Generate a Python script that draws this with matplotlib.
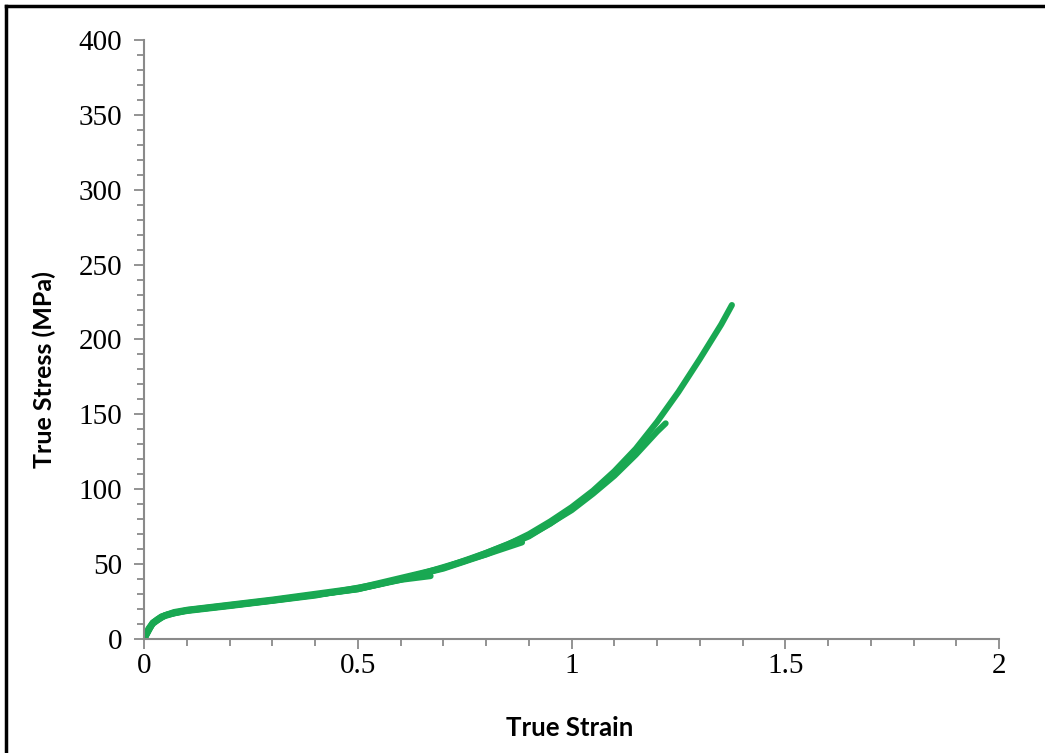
import matplotlib.pyplot as plt
from matplotlib.ticker import MultipleLocator
from matplotlib.lines import Line2D

# specimen curves (true strain, true stress in MPa)
strain_a = [0, 0.005, 0.01, 0.02, 0.03, 0.04, 0.05, 0.07, 0.1, 0.15, 0.2, 0.3, 0.4, 0.5,
            0.55, 0.6, 0.65, 0.7, 0.75, 0.8, 0.85, 0.9, 0.95, 1.0, 1.05, 1.1, 1.15, 1.2,
            1.25, 1.3, 1.35, 1.375]
stress_a = [0, 3.5, 6.5, 10.5, 13, 14.8, 16, 17.6, 19, 20.7, 22.3, 25.8, 29.5, 33.5,
            36.5, 40, 43.5, 47.5, 52, 57.5, 63, 70, 78.5, 88, 99, 112, 127, 145,
            165, 187, 210, 223]

strain_b = [0, 0.01, 0.02, 0.04, 0.07, 0.1, 0.2, 0.4, 0.6, 0.8, 0.9, 1.0, 1.05, 1.1,
            1.15, 1.2, 1.22]
stress_b = [0, 6, 10, 14.5, 17.2, 18.7, 22, 29, 39.5, 56.5, 68.5, 86, 97, 109,
            123, 138.5, 144]

strain_c = [0, 0.01, 0.02, 0.04, 0.07, 0.1, 0.3, 0.5, 0.7, 0.8, 0.9, 0.95, 0.985]
stress_c = [0, 7, 11, 15, 18, 19.5, 26.3, 34, 47.5, 57.5, 69, 77, 84]

strain_d = [0, 0.02, 0.05, 0.1, 0.3, 0.5, 0.7, 0.8, 0.884]
stress_d = [0, 10.5, 15.8, 19, 25.6, 33.2, 47, 56.5, 64.5]

strain_e = [0, 0.02, 0.05, 0.1, 0.3, 0.5, 0.6, 0.67]
stress_e = [0, 10.8, 16, 19.3, 25.9, 33.3, 39.5, 42]

green = '#19a852'
axis_gray = '#8a8a8a'

fig = plt.figure(figsize=(10.45, 7.53), dpi=100)
ax = fig.add_axes([0.138, 0.1514, 0.818, 0.7955])

for sx, sy in [(strain_e, stress_e), (strain_d, stress_d), (strain_c, stress_c),
               (strain_b, stress_b), (strain_a, stress_a)]:
    ax.plot(sx, sy, color=green, linewidth=4.4, solid_capstyle='round',
            solid_joinstyle='round')

ax.set_xlim(0, 2)
ax.set_ylim(0, 400)
ax.xaxis.set_minor_locator(MultipleLocator(0.1))
ax.yaxis.set_major_locator(MultipleLocator(50))
ax.yaxis.set_minor_locator(MultipleLocator(10))
ax.set_xticks([0, 0.5, 1, 1.5, 2])
ax.set_xticklabels(['0', '0.5', '1', '1.5', '2'])

for s in ['top', 'right']:
    ax.spines[s].set_visible(False)
for s in ['left', 'bottom']:
    ax.spines[s].set_color(axis_gray)
    ax.spines[s].set_linewidth(1.5)

ax.tick_params(which='major', direction='out', length=7, width=1.3, color=axis_gray,
               labelsize=21)
ax.tick_params(which='minor', direction='out', length=5, width=1.3, color=axis_gray)
ax.tick_params(axis='x', which='major', pad=3)
ax.tick_params(axis='y', which='major', pad=9)
for lbl in ax.get_xticklabels() + ax.get_yticklabels():
    lbl.set_fontfamily('Liberation Serif')

ax.set_xlabel('True Strain', fontsize=18.5, fontweight='bold', family='Lato')
ax.set_ylabel('True Stress (MPa)', fontsize=18, fontweight='bold', family='Lato')
ax.xaxis.set_label_coords(0.498, -0.128)
ax.yaxis.set_label_coords(-0.103, 0.449)

# frame lines at the left and top of the picture
fig.add_artist(Line2D([6 / 1045, 6 / 1045], [0, 1 - 6 / 753], transform=fig.transFigure,
                      color='black', linewidth=2.5))
fig.add_artist(Line2D([6 / 1045, 1], [1 - 6 / 753, 1 - 6 / 753], transform=fig.transFigure,
                      color='black', linewidth=2.5))

fig.savefig('out.png', dpi=100)
